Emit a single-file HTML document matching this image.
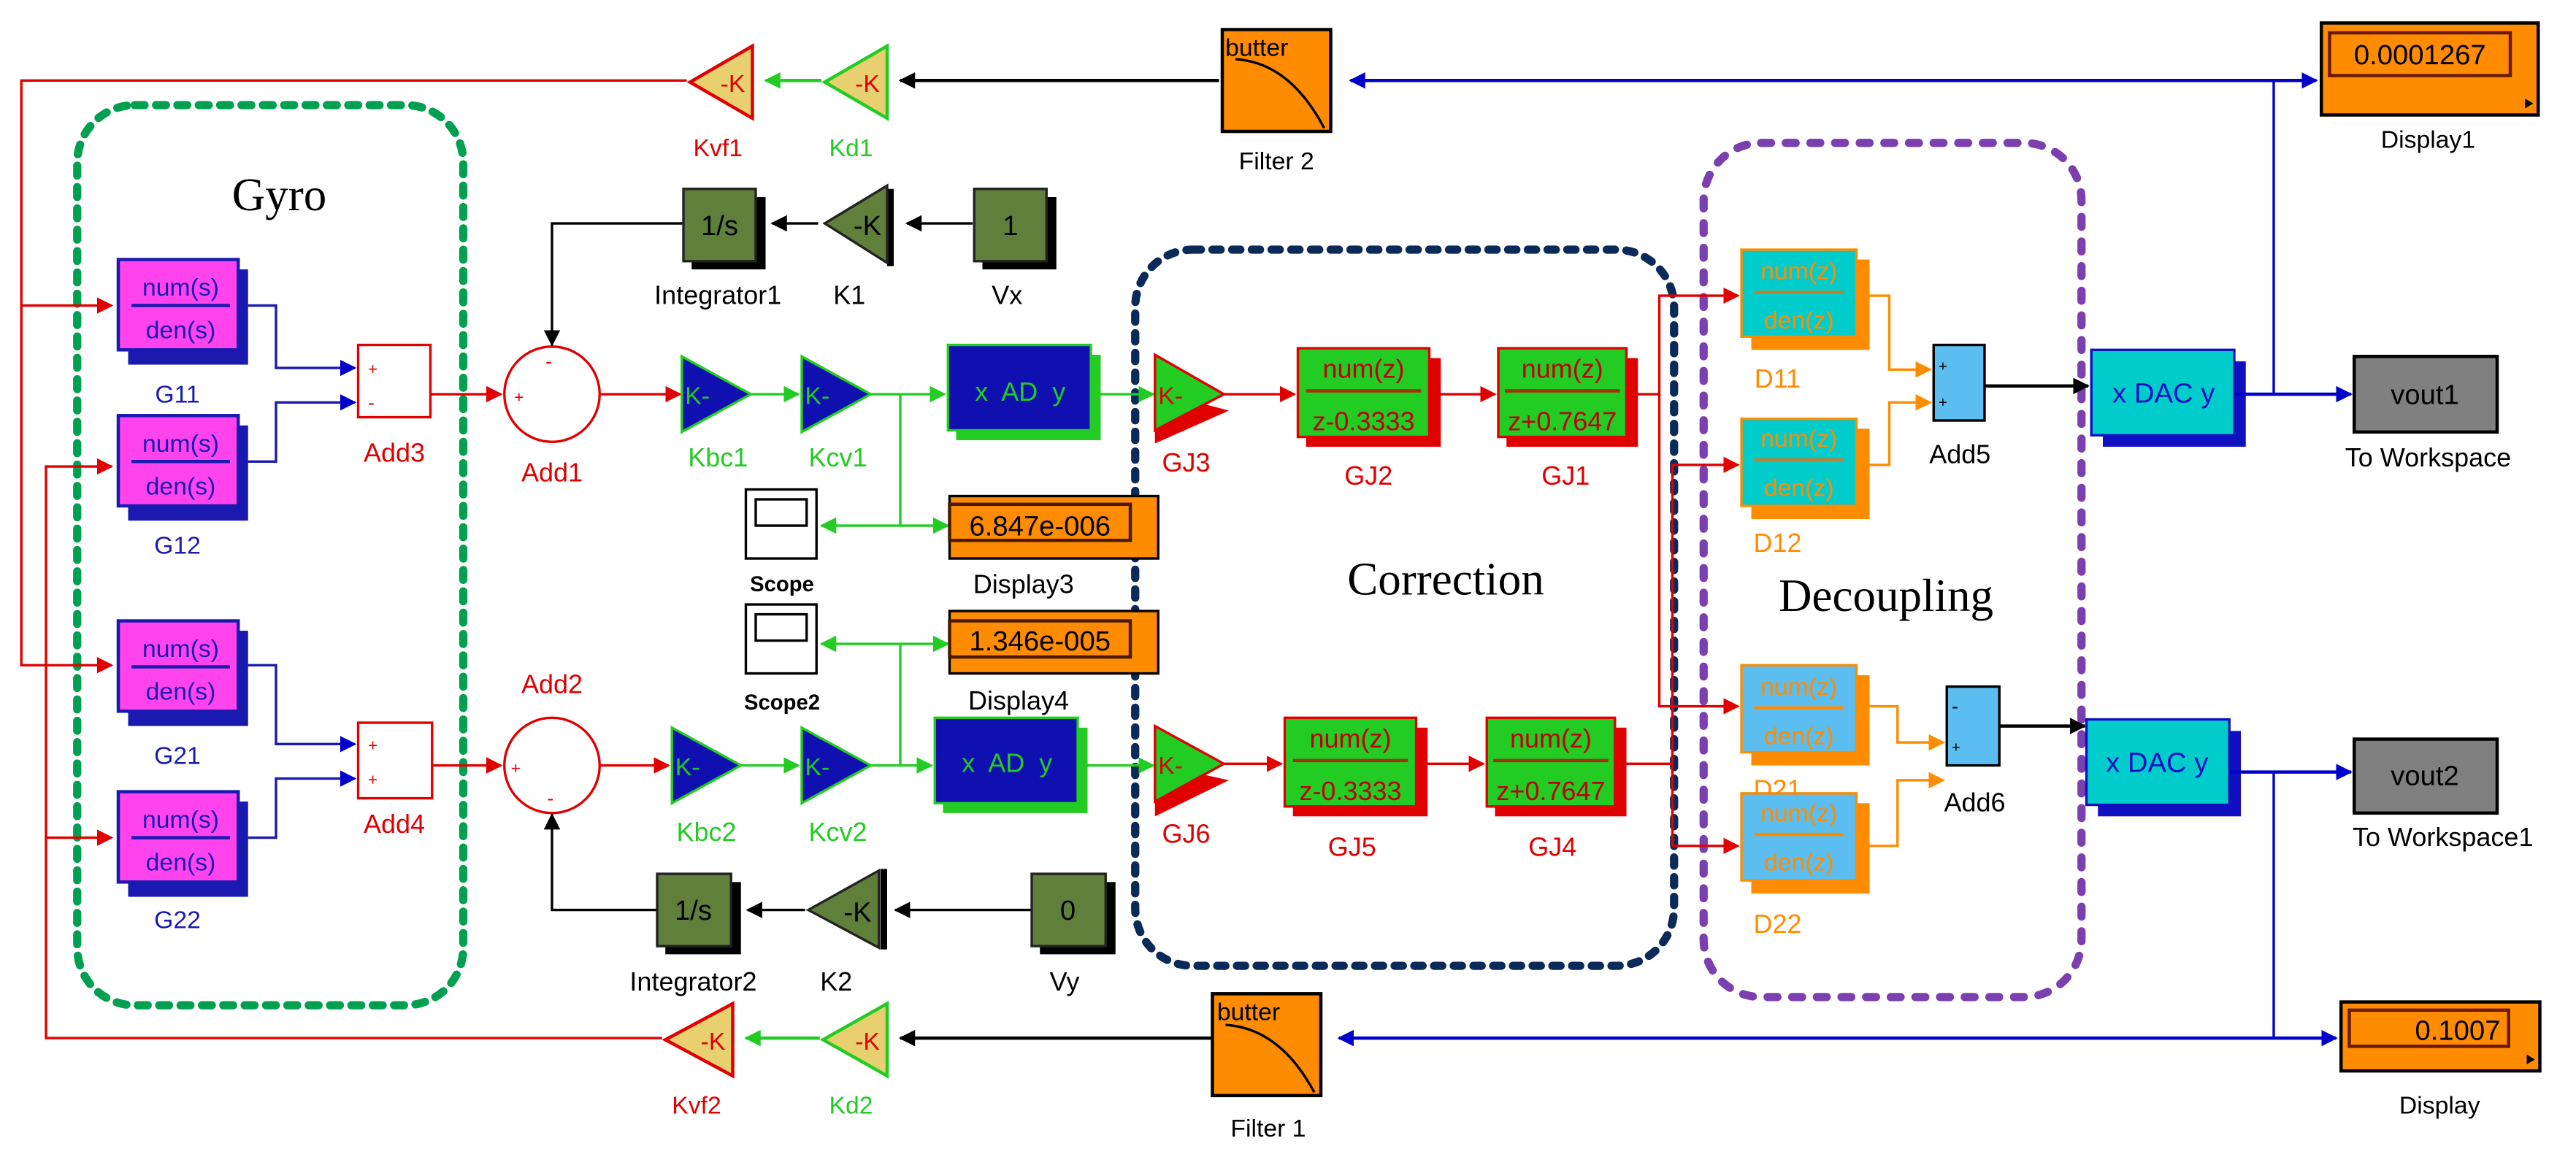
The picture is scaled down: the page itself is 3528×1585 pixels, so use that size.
<!DOCTYPE html>
<html><head><meta charset="utf-8"><style>
html,body{margin:0;padding:0;background:#fff;}
svg{display:block;}
text{font-family:"Liberation Sans",sans-serif;}
.s{font-family:"Liberation Serif",serif;}
</style></head><body>
<svg width="3528" height="1585" viewBox="0 0 1568 704.4" preserveAspectRatio="none" xmlns="http://www.w3.org/2000/svg">
<defs>
<marker id="ar" markerWidth="10" markerHeight="10" refX="9" refY="5" orient="auto" markerUnits="userSpaceOnUse"><path d="M0,0L10,5L0,10z" fill="#e00000"/></marker>
<marker id="ag" markerWidth="10" markerHeight="10" refX="9" refY="5" orient="auto" markerUnits="userSpaceOnUse"><path d="M0,0L10,5L0,10z" fill="#22cc22"/></marker>
<marker id="ak" markerWidth="10" markerHeight="10" refX="9" refY="5" orient="auto" markerUnits="userSpaceOnUse"><path d="M0,0L10,5L0,10z" fill="#000"/></marker>
<marker id="ab" markerWidth="10" markerHeight="10" refX="9" refY="5" orient="auto" markerUnits="userSpaceOnUse"><path d="M0,0L10,5L0,10z" fill="#0000cc"/></marker>
<marker id="ao" markerWidth="10" markerHeight="10" refX="9" refY="5" orient="auto" markerUnits="userSpaceOnUse"><path d="M0,0L10,5L0,10z" fill="#ff8c00"/></marker>
</defs>

<!-- dashed groups -->
<rect x="47" y="64" width="235" height="548" rx="35" fill="none" stroke="#00a050" stroke-width="5" stroke-dasharray="6,7" stroke-linecap="round"/>
<rect x="691" y="152" width="328" height="436" rx="35" fill="none" stroke="#0a2a5a" stroke-width="5" stroke-dasharray="5,7" stroke-linecap="round"/>
<rect x="1037" y="87" width="230" height="520" rx="35" fill="none" stroke="#7b3fb0" stroke-width="5" stroke-dasharray="6,9" stroke-linecap="round"/>
<text x="170" y="128" class="s" font-size="28" text-anchor="middle">Gyro</text>
<text x="880" y="362" class="s" font-size="28" text-anchor="middle">Correction</text>
<text x="1148" y="372" class="s" font-size="28" text-anchor="middle">Decoupling</text>

<!-- top feedback -->
<line x1="1384" y1="49" x2="1410" y2="49" stroke="#0000cc" stroke-width="2" marker-end="url(#ab)"/>
<line x1="1384" y1="49" x2="822" y2="49" stroke="#0000cc" stroke-width="2" marker-end="url(#ab)"/>
<line x1="1384" y1="49" x2="1384" y2="240" stroke="#0000cc" stroke-width="1.5"/>
<line x1="742" y1="49" x2="548" y2="49" stroke="#000" stroke-width="2" marker-end="url(#ak)"/>
<line x1="500" y1="49" x2="466" y2="49" stroke="#22cc22" stroke-width="2" marker-end="url(#ag)"/>
<polyline points="418,49 13,49 13,405 68,405" fill="none" stroke="#e00000" stroke-width="1.5" marker-end="url(#ar)"/>
<line x1="13" y1="186" x2="68" y2="186" stroke="#e00000" stroke-width="1.5" marker-end="url(#ar)"/>
<!-- bottom feedback -->
<line x1="1384" y1="470" x2="1384" y2="632" stroke="#0000cc" stroke-width="1.5"/>
<line x1="1384" y1="632" x2="1422" y2="632" stroke="#0000cc" stroke-width="2" marker-end="url(#ab)"/>
<line x1="1384" y1="632" x2="815" y2="632" stroke="#0000cc" stroke-width="2" marker-end="url(#ab)"/>
<line x1="738" y1="632" x2="548" y2="632" stroke="#000" stroke-width="2" marker-end="url(#ak)"/>
<line x1="499" y1="632" x2="454" y2="632" stroke="#22cc22" stroke-width="2" marker-end="url(#ag)"/>
<polyline points="403,632 28,632 28,284 68,284" fill="none" stroke="#e00000" stroke-width="1.5" marker-end="url(#ar)"/>
<line x1="28" y1="510" x2="68" y2="510" stroke="#e00000" stroke-width="1.5" marker-end="url(#ar)"/>

<!-- gain triangles feedback -->
<polygon points="458,28 458,72 420,50" fill="#e8d070" stroke="#e00000" stroke-width="2"/>
<text x="446" y="56" font-size="15" fill="#e00000" text-anchor="middle">-K</text>
<polygon points="540,28 540,72 502,50" fill="#e8d070" stroke="#22cc22" stroke-width="2"/>
<text x="528" y="56" font-size="15" fill="#e00000" text-anchor="middle">-K</text>
<text x="437" y="95" font-size="15" fill="#e00000" text-anchor="middle">Kvf1</text>
<text x="518" y="95" font-size="15" fill="#22cc22" text-anchor="middle">Kd1</text>
<polygon points="446,611 446,655 405,633" fill="#e8d070" stroke="#e00000" stroke-width="2"/>
<text x="434" y="639" font-size="15" fill="#e00000" text-anchor="middle">-K</text>
<polygon points="540,611 540,655 501,633" fill="#e8d070" stroke="#22cc22" stroke-width="2"/>
<text x="528" y="639" font-size="15" fill="#e00000" text-anchor="middle">-K</text>
<text x="424" y="678" font-size="15" fill="#e00000" text-anchor="middle">Kvf2</text>
<text x="518" y="678" font-size="15" fill="#22cc22" text-anchor="middle">Kd2</text>

<!-- filters -->
<rect x="744" y="18" width="66" height="62" fill="#ff8c00" stroke="#000" stroke-width="2"/>
<text x="765" y="34" font-size="15" text-anchor="middle">butter</text>
<path d="M752,36 Q785,38 806,78" fill="none" stroke="#000" stroke-width="1.5"/>
<text x="777" y="103" font-size="15" text-anchor="middle">Filter 2</text>
<rect x="738" y="605" width="66" height="62" fill="#ff8c00" stroke="#000" stroke-width="2"/>
<text x="760" y="621" font-size="15" text-anchor="middle">butter</text>
<path d="M746,624 Q779,626 800,665" fill="none" stroke="#000" stroke-width="1.5"/>
<text x="772" y="692" font-size="15" text-anchor="middle">Filter 1</text>

<!-- displays -->
<rect x="1413" y="14" width="132" height="56" fill="#ff8c00" stroke="#000" stroke-width="2"/>
<rect x="1418" y="20" width="110" height="26" fill="#ff8c00" stroke="#6a1a00" stroke-width="2"/>
<text x="1473" y="39" font-size="17" text-anchor="middle">0.0001267</text>
<path d="M1537,60 l5,3 l-5,3z" fill="#000"/>
<text x="1478" y="90" font-size="15" text-anchor="middle">Display1</text>
<rect x="1425" y="610" width="121" height="42" fill="#ff8c00" stroke="#000" stroke-width="2"/>
<rect x="1430" y="615" width="97" height="22" fill="#ff8c00" stroke="#6a1a00" stroke-width="2"/>
<text x="1522" y="633" font-size="17" text-anchor="end">0.1007</text>
<path d="M1538,642 l5,3 l-5,3z" fill="#000"/>
<text x="1485" y="678" font-size="15" text-anchor="middle">Display</text>

<!-- G blocks -->
<g font-size="15" text-anchor="middle">
<g transform="translate(72,158)"><rect x="6" y="6" width="73" height="58" fill="#1a1ab0"/><rect x="0" y="0" width="73" height="55" fill="#ff44ee" stroke="#1a1ab0" stroke-width="2"/><text x="38" y="22" fill="#1a1ab0">num(s)</text><line x1="8" y1="28" x2="68" y2="28" stroke="#1a1ab0" stroke-width="2"/><text x="38" y="48" fill="#1a1ab0">den(s)</text></g>
<g transform="translate(72,253)"><rect x="6" y="6" width="73" height="58" fill="#1a1ab0"/><rect x="0" y="0" width="73" height="55" fill="#ff44ee" stroke="#1a1ab0" stroke-width="2"/><text x="38" y="22" fill="#1a1ab0">num(s)</text><line x1="8" y1="28" x2="68" y2="28" stroke="#1a1ab0" stroke-width="2"/><text x="38" y="48" fill="#1a1ab0">den(s)</text></g>
<g transform="translate(72,378)"><rect x="6" y="6" width="73" height="58" fill="#1a1ab0"/><rect x="0" y="0" width="73" height="55" fill="#ff44ee" stroke="#1a1ab0" stroke-width="2"/><text x="38" y="22" fill="#1a1ab0">num(s)</text><line x1="8" y1="28" x2="68" y2="28" stroke="#1a1ab0" stroke-width="2"/><text x="38" y="48" fill="#1a1ab0">den(s)</text></g>
<g transform="translate(72,482)"><rect x="6" y="6" width="73" height="58" fill="#1a1ab0"/><rect x="0" y="0" width="73" height="55" fill="#ff44ee" stroke="#1a1ab0" stroke-width="2"/><text x="38" y="22" fill="#1a1ab0">num(s)</text><line x1="8" y1="28" x2="68" y2="28" stroke="#1a1ab0" stroke-width="2"/><text x="38" y="48" fill="#1a1ab0">den(s)</text></g>
<text x="108" y="245" fill="#1a1ab0">G11</text>
<text x="108" y="337" fill="#1a1ab0">G12</text>
<text x="108" y="465" fill="#1a1ab0">G21</text>
<text x="108" y="565" fill="#1a1ab0">G22</text>
</g>
<!-- G to Add -->
<polyline points="151,186 168,186 168,224 216,224" fill="none" stroke="#1a1ab0" stroke-width="1.5" marker-end="url(#ab)"/>
<polyline points="151,281 168,281 168,245 216,245" fill="none" stroke="#1a1ab0" stroke-width="1.5" marker-end="url(#ab)"/>
<polyline points="151,405 168,405 168,453 216,453" fill="none" stroke="#1a1ab0" stroke-width="1.5" marker-end="url(#ab)"/>
<polyline points="151,510 168,510 168,474 216,474" fill="none" stroke="#1a1ab0" stroke-width="1.5" marker-end="url(#ab)"/>
<rect x="218" y="210" width="44" height="44" fill="#fff" stroke="#e00000" stroke-width="1.5"/>
<text x="224" y="228" font-size="10" fill="#e00000">+</text><text x="224" y="249" font-size="12" fill="#e00000">-</text>
<text x="240" y="281" font-size="16" fill="#e00000" text-anchor="middle">Add3</text>
<rect x="218" y="440" width="45" height="46" fill="#fff" stroke="#e00000" stroke-width="1.5"/>
<text x="224" y="457" font-size="10" fill="#e00000">+</text><text x="224" y="478" font-size="10" fill="#e00000">+</text>
<text x="240" y="507" font-size="16" fill="#e00000" text-anchor="middle">Add4</text>
<!-- Add circles -->
<line x1="262" y1="240" x2="305" y2="240" stroke="#e00000" stroke-width="1.5" marker-end="url(#ar)"/>
<ellipse cx="336" cy="240" rx="29" ry="29" fill="#fff" stroke="#e00000" stroke-width="1.5"/>
<text x="313" y="245" font-size="10" fill="#e00000">+</text><text x="332" y="224" font-size="12" fill="#e00000">-</text>
<text x="336" y="293" font-size="16" fill="#e00000" text-anchor="middle">Add1</text>
<line x1="263" y1="466" x2="305" y2="466" stroke="#e00000" stroke-width="1.5" marker-end="url(#ar)"/>
<ellipse cx="336" cy="466" rx="29" ry="29" fill="#fff" stroke="#e00000" stroke-width="1.5"/>
<text x="311" y="471" font-size="10" fill="#e00000">+</text><text x="333" y="490" font-size="12" fill="#e00000">-</text>
<text x="336" y="422" font-size="16" fill="#e00000" text-anchor="middle">Add2</text>
<line x1="365" y1="240" x2="414" y2="240" stroke="#e00000" stroke-width="1.5" marker-end="url(#ar)"/>
<line x1="365" y1="466" x2="407" y2="466" stroke="#e00000" stroke-width="1.5" marker-end="url(#ar)"/>

<!-- integrator paths -->
<polyline points="416,136 336,136 336,210" fill="none" stroke="#000" stroke-width="1.5" marker-end="url(#ak)"/>
<line x1="498" y1="136" x2="470" y2="136" stroke="#000" stroke-width="1.5" marker-end="url(#ak)"/>
<line x1="592" y1="136" x2="552" y2="136" stroke="#000" stroke-width="1.5" marker-end="url(#ak)"/>
<polyline points="400,554 336,554 336,496" fill="none" stroke="#000" stroke-width="1.5" marker-end="url(#ak)"/>
<line x1="490" y1="554" x2="455" y2="554" stroke="#000" stroke-width="1.5" marker-end="url(#ak)"/>
<line x1="628" y1="554" x2="545" y2="554" stroke="#000" stroke-width="1.5" marker-end="url(#ak)"/>
<!-- olive blocks -->
<g font-size="17" text-anchor="middle">
<rect x="421" y="120" width="45" height="44" fill="#000"/><rect x="416" y="115" width="44" height="44" fill="#5f7f3a" stroke="#222" stroke-width="1.5"/><text x="438" y="143">1/s</text>
<polygon points="540,115 540,162 544,162 544,115" fill="#000"/><polygon points="540,113 540,160 502,136" fill="#5f7f3a" stroke="#222" stroke-width="1.5"/><text x="528" y="143">-K</text>
<rect x="598" y="120" width="45" height="44" fill="#000"/><rect x="593" y="115" width="44" height="44" fill="#5f7f3a" stroke="#222" stroke-width="1.5"/><text x="615" y="143">1</text>
<text x="437" y="185" font-size="16">Integrator1</text><text x="517" y="185" font-size="16">K1</text><text x="613" y="185" font-size="16">Vx</text>
<rect x="405" y="537" width="46" height="44" fill="#000"/><rect x="400" y="532" width="45" height="44" fill="#5f7f3a" stroke="#222" stroke-width="1.5"/><text x="422" y="560">1/s</text>
<polygon points="536,529 536,578 540,578 540,529" fill="#000"/><polygon points="535,530 535,577 492,554" fill="#5f7f3a" stroke="#222" stroke-width="1.5"/><text x="522" y="561">-K</text>
<rect x="633" y="537" width="46" height="44" fill="#000"/><rect x="628" y="532" width="45" height="44" fill="#5f7f3a" stroke="#222" stroke-width="1.5"/><text x="650" y="560">0</text>
<text x="422" y="603" font-size="16">Integrator2</text><text x="509" y="603" font-size="16">K2</text><text x="648" y="603" font-size="16">Vy</text>
</g>

<!-- Kbc/Kcv upper -->
<g font-size="15" fill="#22cc22">
<polygon points="415,217 415,263 457,240" fill="#1010b0" stroke="#22cc22" stroke-width="1.5"/><text x="417" y="246">K-</text>
<line x1="457" y1="240" x2="486" y2="240" stroke="#22cc22" stroke-width="1.5" marker-end="url(#ag)"/>
<polygon points="488,217 488,263 530,240" fill="#1010b0" stroke="#22cc22" stroke-width="1.5"/><text x="490" y="246">K-</text>
<text x="437" y="284" text-anchor="middle" font-size="16">Kbc1</text><text x="510" y="284" text-anchor="middle" font-size="16">Kcv1</text>
<line x1="530" y1="240" x2="575" y2="240" stroke="#22cc22" stroke-width="1.5" marker-end="url(#ag)"/>
<line x1="548" y1="240" x2="548" y2="320" stroke="#22cc22" stroke-width="1.5"/>
<line x1="548" y1="320" x2="577" y2="320" stroke="#22cc22" stroke-width="1.5" marker-end="url(#ag)"/>
<line x1="548" y1="320" x2="500" y2="320" stroke="#22cc22" stroke-width="1.5" marker-end="url(#ag)"/>
<rect x="582" y="216" width="88" height="52" fill="#22cc22"/><rect x="577" y="210" width="87" height="52" fill="#1010b0" stroke="#22cc22" stroke-width="1.5"/>
<text x="621" y="244" text-anchor="middle" font-size="16" xml:space="preserve">x  AD  y</text>
<line x1="664" y1="240" x2="702" y2="240" stroke="#22cc22" stroke-width="1.5" marker-end="url(#ag)"/>
<!-- lower -->
<polygon points="409,443 409,489 451,466" fill="#1010b0" stroke="#22cc22" stroke-width="1.5"/><text x="411" y="472">K-</text>
<line x1="451" y1="466" x2="486" y2="466" stroke="#22cc22" stroke-width="1.5" marker-end="url(#ag)"/>
<polygon points="488,443 488,489 530,466" fill="#1010b0" stroke="#22cc22" stroke-width="1.5"/><text x="490" y="472">K-</text>
<text x="430" y="512" text-anchor="middle" font-size="16">Kbc2</text><text x="510" y="512" text-anchor="middle" font-size="16">Kcv2</text>
<line x1="530" y1="466" x2="567" y2="466" stroke="#22cc22" stroke-width="1.5" marker-end="url(#ag)"/>
<line x1="548" y1="392" x2="548" y2="466" stroke="#22cc22" stroke-width="1.5"/>
<line x1="548" y1="392" x2="577" y2="392" stroke="#22cc22" stroke-width="1.5" marker-end="url(#ag)"/>
<line x1="548" y1="392" x2="500" y2="392" stroke="#22cc22" stroke-width="1.5" marker-end="url(#ag)"/>
<rect x="574" y="443" width="88" height="52" fill="#22cc22"/><rect x="569" y="437" width="87" height="52" fill="#1010b0" stroke="#22cc22" stroke-width="1.5"/>
<text x="613" y="470" text-anchor="middle" font-size="16" xml:space="preserve">x  AD  y</text>
<line x1="656" y1="466" x2="702" y2="466" stroke="#22cc22" stroke-width="1.5" marker-end="url(#ag)"/>
</g>
<!-- scopes & displays -->
<rect x="454" y="298" width="43" height="42" fill="#fff" stroke="#000" stroke-width="1.5"/><rect x="460" y="304" width="31" height="16" fill="#fff" stroke="#000" stroke-width="1.5"/>
<text x="476" y="360" font-size="13" font-weight="bold" text-anchor="middle">Scope</text>
<rect x="454" y="368" width="43" height="42" fill="#fff" stroke="#000" stroke-width="1.5"/><rect x="460" y="374" width="31" height="16" fill="#fff" stroke="#000" stroke-width="1.5"/>
<text x="476" y="432" font-size="13" font-weight="bold" text-anchor="middle">Scope2</text>
<rect x="578" y="302" width="127" height="38" fill="#ff8c00" stroke="#000" stroke-width="1.5"/>
<rect x="578" y="307" width="110" height="22" fill="#ff8c00" stroke="#4a1a00" stroke-width="2"/>
<text x="633" y="326" font-size="17" text-anchor="middle">6.847e-006</text>
<text x="623" y="361" font-size="16" text-anchor="middle">Display3</text>
<rect x="578" y="372" width="127" height="38" fill="#ff8c00" stroke="#000" stroke-width="1.5"/>
<rect x="578" y="378" width="110" height="22" fill="#ff8c00" stroke="#4a1a00" stroke-width="2"/>
<text x="633" y="396" font-size="17" text-anchor="middle">1.346e-005</text>
<text x="620" y="432" font-size="16" text-anchor="middle">Display4</text>

<!-- GJ chains -->
<g font-size="15">
<polygon points="703,238 703,270 748,250" fill="#e00000"/>
<polygon points="703,216 703,262 745,240" fill="#22cc22" stroke="#e00000" stroke-width="1.5"/><text x="705" y="246" fill="#e00000">K-</text>
<text x="722" y="287" fill="#e00000" text-anchor="middle" font-size="16">GJ3</text>
<line x1="745" y1="240" x2="788" y2="240" stroke="#e00000" stroke-width="1.5" marker-end="url(#ar)"/>
<rect x="795" y="218" width="82" height="54" fill="#e00000"/><rect x="790" y="212" width="80" height="54" fill="#22cc22" stroke="#e00000" stroke-width="1.5"/>
<text x="830" y="230" fill="#c00000" text-anchor="middle" font-size="16">num(z)</text><line x1="795" y1="238" x2="865" y2="238" stroke="#a03000" stroke-width="2"/><text x="830" y="262" fill="#c00000" text-anchor="middle" font-size="16">z-0.3333</text>
<text x="833" y="295" fill="#e00000" text-anchor="middle" font-size="16">GJ2</text>
<line x1="870" y1="240" x2="910" y2="240" stroke="#e00000" stroke-width="1.5" marker-end="url(#ar)"/>
<rect x="917" y="218" width="80" height="54" fill="#e00000"/><rect x="912" y="212" width="78" height="54" fill="#22cc22" stroke="#e00000" stroke-width="1.5"/>
<text x="951" y="230" fill="#c00000" text-anchor="middle" font-size="16">num(z)</text><line x1="916" y1="238" x2="986" y2="238" stroke="#a03000" stroke-width="2"/><text x="951" y="262" fill="#c00000" text-anchor="middle" font-size="16">z+0.7647</text>
<text x="953" y="295" fill="#e00000" text-anchor="middle" font-size="16">GJ1</text>
<!-- lower -->
<polygon points="703,465 703,497 748,475" fill="#e00000"/>
<polygon points="703,442 703,488 745,465" fill="#22cc22" stroke="#e00000" stroke-width="1.5"/><text x="705" y="471" fill="#e00000">K-</text>
<text x="722" y="513" fill="#e00000" text-anchor="middle" font-size="16">GJ6</text>
<line x1="745" y1="465" x2="780" y2="465" stroke="#e00000" stroke-width="1.5" marker-end="url(#ar)"/>
<rect x="787" y="443" width="82" height="54" fill="#e00000"/><rect x="782" y="437" width="80" height="54" fill="#22cc22" stroke="#e00000" stroke-width="1.5"/>
<text x="822" y="455" fill="#c00000" text-anchor="middle" font-size="16">num(z)</text><line x1="787" y1="463" x2="857" y2="463" stroke="#a03000" stroke-width="2"/><text x="822" y="487" fill="#c00000" text-anchor="middle" font-size="16">z-0.3333</text>
<text x="823" y="521" fill="#e00000" text-anchor="middle" font-size="16">GJ5</text>
<line x1="862" y1="465" x2="903" y2="465" stroke="#e00000" stroke-width="1.5" marker-end="url(#ar)"/>
<rect x="910" y="443" width="80" height="54" fill="#e00000"/><rect x="905" y="437" width="78" height="54" fill="#22cc22" stroke="#e00000" stroke-width="1.5"/>
<text x="944" y="455" fill="#c00000" text-anchor="middle" font-size="16">num(z)</text><line x1="909" y1="463" x2="979" y2="463" stroke="#a03000" stroke-width="2"/><text x="944" y="487" fill="#c00000" text-anchor="middle" font-size="16">z+0.7647</text>
<text x="945" y="521" fill="#e00000" text-anchor="middle" font-size="16">GJ4</text>
</g>
<!-- red routing to D blocks -->
<polyline points="990,240 1010,240 1010,180 1058,180" fill="none" stroke="#e00000" stroke-width="1.5" marker-end="url(#ar)"/>
<polyline points="1010,240 1010,430 1058,430" fill="none" stroke="#e00000" stroke-width="1.5" marker-end="url(#ar)"/>
<polyline points="983,465 1018,465 1018,283 1058,283" fill="none" stroke="#e00000" stroke-width="1.5" marker-end="url(#ar)"/>
<polyline points="1018,465 1018,515 1058,515" fill="none" stroke="#e00000" stroke-width="1.5" marker-end="url(#ar)"/>

<!-- D blocks -->
<g font-size="15" text-anchor="middle" fill="#ff8c00">
<rect x="1066" y="158" width="72" height="55" fill="#ff8c00"/><rect x="1060" y="152" width="70" height="53" fill="#00cccc" stroke="#ff8c00" stroke-width="1.5"/>
<text x="1095" y="170">num(z)</text><line x1="1068" y1="178" x2="1122" y2="178" stroke="#c08030" stroke-width="2"/><text x="1095" y="200">den(z)</text>
<text x="1082" y="236" font-size="16">D11</text>
<rect x="1066" y="261" width="72" height="55" fill="#ff8c00"/><rect x="1060" y="255" width="70" height="53" fill="#00cccc" stroke="#ff8c00" stroke-width="1.5"/>
<text x="1095" y="272">num(z)</text><line x1="1068" y1="280" x2="1122" y2="280" stroke="#c08030" stroke-width="2"/><text x="1095" y="302">den(z)</text>
<text x="1082" y="336" font-size="16">D12</text>
<rect x="1066" y="411" width="72" height="55" fill="#ff8c00"/><rect x="1060" y="405" width="70" height="53" fill="#5cbef0" stroke="#ff8c00" stroke-width="1.5"/>
<text x="1095" y="423">num(z)</text><line x1="1068" y1="431" x2="1122" y2="431" stroke="#ff8c00" stroke-width="2"/><text x="1095" y="453">den(z)</text>
<text x="1082" y="486" font-size="16">D21</text>
<rect x="1066" y="489" width="72" height="55" fill="#ff8c00"/><rect x="1060" y="483" width="70" height="53" fill="#5cbef0" stroke="#ff8c00" stroke-width="1.5"/>
<text x="1095" y="500">num(z)</text><line x1="1068" y1="508" x2="1122" y2="508" stroke="#ff8c00" stroke-width="2"/><text x="1095" y="530">den(z)</text>
<text x="1082" y="568" font-size="16">D22</text>
</g>
<polyline points="1138,180 1150,180 1150,225 1175,225" fill="none" stroke="#ff8c00" stroke-width="1.5" marker-end="url(#ao)"/>
<polyline points="1138,283 1150,283 1150,245 1175,245" fill="none" stroke="#ff8c00" stroke-width="1.5" marker-end="url(#ao)"/>
<polyline points="1138,430 1155,430 1155,452 1183,452" fill="none" stroke="#ff8c00" stroke-width="1.5" marker-end="url(#ao)"/>
<polyline points="1138,515 1155,515 1155,475 1183,475" fill="none" stroke="#ff8c00" stroke-width="1.5" marker-end="url(#ao)"/>
<!-- adders -->
<rect x="1177" y="210" width="31" height="46" fill="#5cbef0" stroke="#000" stroke-width="1.5"/>
<text x="1180" y="226" font-size="9">+</text><text x="1180" y="248" font-size="9">+</text>
<text x="1193" y="282" font-size="16" text-anchor="middle">Add5</text>
<rect x="1185" y="418" width="32" height="48" fill="#5cbef0" stroke="#000" stroke-width="1.5"/>
<text x="1188" y="434" font-size="12">-</text><text x="1188" y="458" font-size="9">+</text>
<text x="1202" y="494" font-size="16" text-anchor="middle">Add6</text>
<line x1="1208" y1="235" x2="1271" y2="235" stroke="#000" stroke-width="2" marker-end="url(#ak)"/>
<line x1="1217" y1="442" x2="1269" y2="442" stroke="#000" stroke-width="2" marker-end="url(#ak)"/>
<!-- DACs -->
<rect x="1280" y="220" width="87" height="52" fill="#1010c0"/><rect x="1273" y="213" width="87" height="52" fill="#00cccc" stroke="#1010c0" stroke-width="1.5"/>
<text x="1317" y="245" font-size="17" fill="#1010c0" text-anchor="middle">x DAC y</text>
<rect x="1277" y="445" width="87" height="52" fill="#1010c0"/><rect x="1270" y="438" width="87" height="52" fill="#00cccc" stroke="#1010c0" stroke-width="1.5"/>
<text x="1313" y="470" font-size="17" fill="#1010c0" text-anchor="middle">x DAC y</text>
<line x1="1360" y1="240" x2="1431" y2="240" stroke="#0000cc" stroke-width="2" marker-end="url(#ab)"/>
<line x1="1357" y1="470" x2="1431" y2="470" stroke="#0000cc" stroke-width="2" marker-end="url(#ab)"/>
<rect x="1433" y="217" width="87" height="46" fill="#808080" stroke="#000" stroke-width="2"/>
<text x="1476" y="246" font-size="17" text-anchor="middle">vout1</text>
<text x="1478" y="284" font-size="16" text-anchor="middle">To Workspace</text>
<rect x="1433" y="450" width="87" height="45" fill="#808080" stroke="#000" stroke-width="2"/>
<text x="1476" y="478" font-size="17" text-anchor="middle">vout2</text>
<text x="1487" y="515" font-size="16" text-anchor="middle">To Workspace1</text>
</svg>
</body></html>
